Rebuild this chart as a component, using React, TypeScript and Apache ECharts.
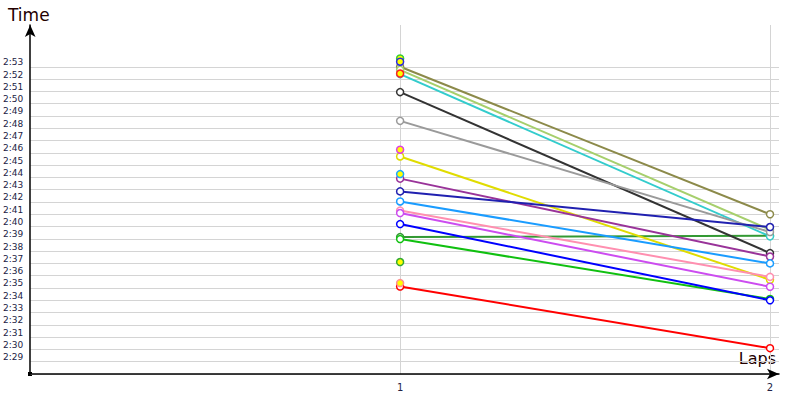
import React, { useEffect, useRef } from "react";
import * as echarts from "echarts";

// Laps on the x axis
const laps = [1, 2];

// Drivers that completed both laps (times in seconds)
const lineColors = [
  "#339933", "#10c010", "#8c8a4a", "#a6cf6c", "#33cccc",
  "#333333", "#9a9a9a", "#e0dc00", "#993399", "#2020b0",
  "#1a9cff", "#ff8fb0", "#cc4cf0", "#0000ff", "#ff0000",
];
const lap1Times = [
  159.14, 158.98, 173.0, 172.75, 172.4,
  170.94, 168.6, 165.7, 163.9, 162.86,
  162.04, 161.3, 161.1, 160.2, 155.12,
];
const lap2Times = [
  159.25, 154.1, 161.0, 159.74, 159.2,
  157.84, 159.55, 155.67, 157.56, 159.96,
  157.0, 155.9, 155.1, 154.0, 150.1,
];

// Drivers with only a first lap
const singleColors = ["#33cc33", "#2a2ae0", "#ff2020", "#e040e0", "#1aa8ff", "#33aa33", "#ff9090"];
const singleTimes = [173.68, 173.41, 172.45, 166.25, 164.27, 157.11, 155.4];

// Axis settings
const yMin = 148;
const yTop = 173;
const yMax = 176.4;
const xMax = 2.0243;

const fmtTime = (v: number) => {
  const m = Math.floor(v / 60);
  const s = Math.round(v - m * 60);
  return m + ":" + (s < 10 ? "0" + s : String(s));
};

export default function App() {
  const ref = useRef<HTMLDivElement>(null);
  useEffect(() => {
    if (!ref.current) return;
    const chart = echarts.init(ref.current, undefined, { renderer: "svg" });
    const gray = "#d4d4d4";
    const none = "rgba(0,0,0,0)";
    const yLineColors: string[] = [];
    for (let v = yMin; v <= Math.ceil(yMax) + 1; v++) yLineColors.push(v <= yTop ? gray : none);
    const lineSeries = lineColors.map((c, i) => ({
      type: "line",
      data: [
        [laps[0], lap1Times[i]],
        [laps[1], lap2Times[i]],
      ],
      symbol: "circle",
      symbolSize: 7,
      showAllSymbol: true,
      lineStyle: { color: c, width: 2 },
      itemStyle: { color: "#ffffff", borderColor: c, borderWidth: 1.5 },
      z: 2,
    }));
    const singleSeries = singleColors.map((c, i) => ({
      type: "line",
      data: [[laps[0], singleTimes[i]]],
      symbol: "circle",
      symbolSize: 7,
      itemStyle: { color: "#ffff00", borderColor: c, borderWidth: 1.5 },
      z: 3,
    }));
    chart.setOption({
      animation: false,
      backgroundColor: "#ffffff",
      grid: { left: 30, right: 21, top: 25, bottom: 26, containLabel: false },
      xAxis: {
        type: "value",
        min: 0,
        max: xMax,
        interval: 1,
        axisLine: {
          show: true,
          symbol: ["none", "arrow"],
          symbolSize: [8, 12],
          lineStyle: { color: "#000", width: 1.5 },
        },
        axisTick: { show: false },
        axisLabel: {
          margin: 8,
          fontSize: 10,
          fontFamily: "DejaVu Sans",
          color: "#222244",
          showMaxLabel: false,
          formatter: (v: number) => (Number.isInteger(v) && v > 0 ? String(v) : ""),
        },
        splitLine: { show: true, lineStyle: { color: [none, gray, gray, none, none], width: 1 } },
      },
      yAxis: {
        type: "value",
        min: yMin,
        max: yMax,
        interval: 1,
        axisLine: {
          show: true,
          symbol: ["none", "arrow"],
          symbolSize: [8, 12],
          lineStyle: { color: "#000", width: 1.5 },
        },
        axisTick: { show: false },
        axisLabel: {
          margin: 7,
          fontSize: 9,
          fontFamily: "DejaVu Sans",
          color: "#222244",
          verticalAlign: "bottom",
          showMaxLabel: false,
          formatter: (v: number) => (Number.isInteger(v) && v > yMin && v <= yTop ? fmtTime(v) : ""),
        },
        splitLine: { show: true, lineStyle: { color: yLineColors, width: 1 } },
      },
      graphic: [
        {
          type: "text",
          left: 8,
          top: 6,
          style: { text: "Time", fontSize: 17, fontFamily: "DejaVu Sans", fill: "#220000" },
        },
        {
          type: "text",
          right: 24,
          top: 350,
          style: { text: "Laps", fontSize: 16, fontFamily: "DejaVu Sans", fill: "#220000" },
        },
        {
          type: "rect",
          shape: { x: 28, y: 372, width: 4, height: 4 },
          style: { fill: "#000" },
        },
      ],
      series: [...lineSeries, ...singleSeries],
    });
    return () => chart.dispose();
  }, []);
  return <div ref={ref} style={{ width: 800, height: 400, position: "absolute", left: 0, top: 0 }} />;
}
